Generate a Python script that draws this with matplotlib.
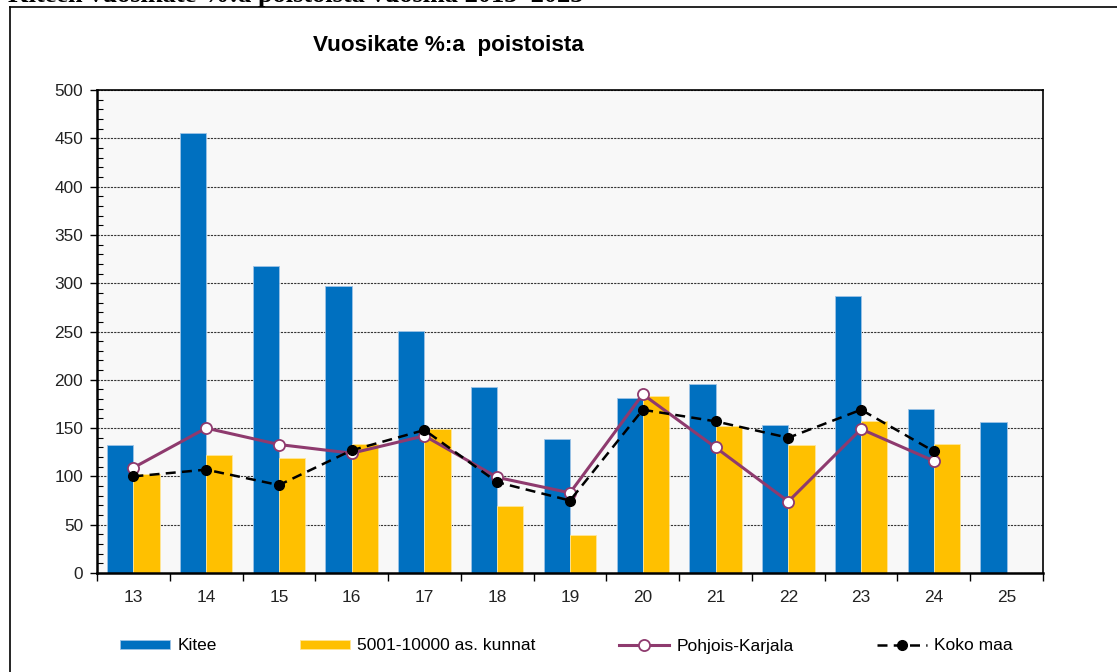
import numpy as np
import matplotlib
matplotlib.use("Agg")
import matplotlib.pyplot as plt
from matplotlib.lines import Line2D
from matplotlib.ticker import MultipleLocator

plt.rcParams['font.family'] = ['Liberation Sans', 'DejaVu Sans']

# vuodet (20xx)
years = ['13', '14', '15', '16', '17', '18', '19', '20', '21', '22', '23', '24', '25']
kitee = [133, 455, 318, 297, 251, 193, 139, 181, 196, 153, 287, 170, 156]
kunnat = [103, 122, 119, 134, 149, 69, 39, 183, 152, 132, 157, 134, np.nan]
pohjois_karjala = [109, 150, 133, 124, 142, 99, 83, 185, 130, 74, 149, 116, np.nan]
koko_maa = [100, 107, 91, 127, 148, 94, 75, 169, 157, 140, 169, 126, np.nan]

W, H = 1117, 672
fig = plt.figure(figsize=(W / 100, H / 100), dpi=100)
fig.patch.set_facecolor('white')

# reunus ja leikattu otsikko ylhäällä
fig.add_artist(Line2D([10 / W, 1], [1 - 7 / H, 1 - 7 / H], color='black', lw=1.2))
fig.add_artist(Line2D([10 / W, 10 / W], [0, 1 - 7 / H], color='black', lw=1.2))
fig.text(8 / W, 1 - 2 / H, 'Kiteen vuosikate %:a poistoista vuosina 2013–2025',
         family=['Liberation Serif', 'DejaVu Serif'], weight='bold', fontsize=19,
         ha='left', va='baseline')

ax = fig.add_axes([97 / W, (H - 573) / H, (1043 - 97) / W, 483 / H])
ax.set_facecolor('#F8F8F8')

x = np.arange(len(years))
bw = 0.36
b1 = ax.bar(x - bw / 2, kitee, bw, color='#0070C0', edgecolor='#9DC3E6', linewidth=0.6,
            label='Kitee', zorder=2)
b2 = ax.bar(x + bw / 2, kunnat, bw, color='#FFC000', edgecolor='#FFE699', linewidth=0.6,
            label='5001-10000 as. kunnat', zorder=2)
l1, = ax.plot(x, pohjois_karjala, color='#8E3A6E', lw=2.2, marker='o', markersize=8,
              markerfacecolor='white', markeredgecolor='#8E3A6E', markeredgewidth=1.3,
              label='Pohjois-Karjala', zorder=3)
l2, = ax.plot(x, koko_maa, color='black', lw=1.8, ls=(0, (4, 2.5)), marker='o', markersize=7,
              markerfacecolor='black', markeredgecolor='black',
              label='Koko maa', zorder=4)

ax.set_xlim(-0.5, len(years) - 0.5)
ax.set_ylim(0, 500)
ax.yaxis.set_major_locator(MultipleLocator(50))
ax.yaxis.set_minor_locator(MultipleLocator(10))
ax.set_xticks(x)
ax.set_xticklabels(years)
ax.set_xticks(np.arange(-0.5, len(years)), minor=True)

ax.tick_params(axis='x', which='major', length=0, pad=12, labelsize=12.4)
ax.tick_params(axis='x', which='minor', length=6, width=1, direction='out')
ax.tick_params(axis='y', which='major', length=5, width=1, direction='out', pad=5,
               labelsize=12.4)
ax.tick_params(axis='y', which='minor', length=4, width=0.8, direction='in')
ax.tick_params(axis='both', which='both', colors='black', labelcolor='#222222')

ax.grid(axis='y', which='major', color='#333333', lw=0.8, ls=(0, (2, 1)))
ax.set_axisbelow(True)
for s in ax.spines.values():
    s.set_color('black')
    s.set_linewidth(1.2)
ax.spines['left'].set_linewidth(1.8)
ax.spines['bottom'].set_linewidth(1.8)

fig.text(448 / W, 1 - 46 / H, 'Vuosikate %:a  poistoista', ha='center', va='center',
         fontsize=16.2, weight='bold')

fig.legend(handles=[b1, b2, l1, l2], loc='center left',
           bbox_to_anchor=(120 / W, 1 - 646 / H), ncol=4,
           frameon=False, fontsize=12.5, handlelength=2.9, handleheight=0.45,
           handletextpad=0.4, columnspacing=4.8, borderpad=0, borderaxespad=0)

fig.savefig('out.png', dpi=100)
